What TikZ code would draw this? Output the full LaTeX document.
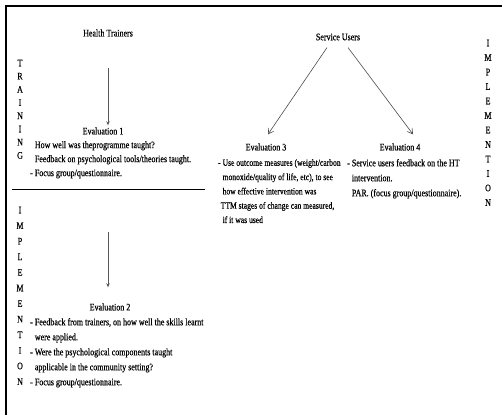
\documentclass[tikz,border=0pt]{standalone}
\usepackage{fontspec}
\setmainfont{Liberation Serif}[FakeStretch=0.8,FakeBold=0.3]
\usetikzlibrary{arrows.meta}
\newcommand\bodyfont{\fontsize{10}{15}\selectfont}
\begin{document}
\begin{tikzpicture}[x=1pt,y=-1pt,
  heading/.style={inner sep=0pt, font=\bodyfont},
  note/.style={inner sep=0pt, align=left, anchor=north west},
  letters/.style={inner sep=0pt, align=center, anchor=north},
  flow/.style={draw=black!65, line width=0.8pt, -{Stealth[length=4pt,width=3.5pt]}},
  branch/.style={draw=black!70, line width=0.6pt, -{Straight Barb[length=5pt,width=6pt]}}]
\useasboundingbox (0,0) rectangle (502,415);
\fill[white] (0,0) rectangle (502,415);

% outer frame (top and left edges)
\draw[line width=2pt] (6,415) -- (6,6) -- (502,6);

% ---- training phase ----
\node[heading] (ht) at (108,33) {Health Trainers};
\node[letters, font=\fontsize{10}{13.2}\selectfont] (training) at (20,59.5)
  {T\\R\\A\\I\\N\\I\\N\\G};
\node[heading] (ev1) at (103,131) {Evaluation 1};
\node[note, font=\fontsize{10}{14}\selectfont] (ev1txt) at (30,141)
  {\phantom{- }How well was theprogramme taught?\\
   \phantom{- }Feedback on psychological tools/theories taught.\\
   - Focus group/questionnaire.};
\coordinate (a1s) at (108,68);
\draw[flow, shorten >=2pt] (a1s) -- (a1s |- ev1.north);

% divider between the two phases
\coordinate (divl) at (12,189);
\coordinate (divr) at (205,189);
\draw[line width=1pt] (divl) -- (divr);

% ---- implementation phase (left) ----
\node[letters, font=\fontsize{10}{15.6}\selectfont] (implL) at (20,206.5)
  {I\\M\\P\\L\\E\\M\\E\\N\\T\\I\\O\\N};
\node[heading] (ev2) at (110,307) {Evaluation 2};
\node[note, font=\bodyfont] (ev2txt) at (30,318)
  {- Feedback from trainers, on how well the skills learnt\\
   \phantom{- }were applied.\\
   - Were the psychological components taught\\
   \phantom{- }applicable in the community setting?\\
   - Focus group/questionnaire.};
\coordinate (a2s) at (108,232);
\draw[flow, shorten >=16pt] (a2s) -- (a2s |- ev2.north);

% ---- service users ----
\node[heading] (su) at (338,37) {Service Users};
\node[heading] (ev3) at (266,147) {Evaluation 3};
\node[heading] (ev4) at (400,147) {Evaluation 4};
\draw[branch] ([xshift=-11pt,yshift=-7pt]su.south) -- ([xshift=2pt,yshift=9pt]ev3.north);
\draw[branch] ([xshift=10pt,yshift=-7pt]su.south) -- ([xshift=13pt,yshift=9pt]ev4.north);

\node[note, font=\fontsize{9.5}{14.3}\selectfont] (ev3txt) at (218,159)
  {- Use outcome measures (weight/carbon\\
   \phantom{- }monoxide/quality of life, etc), to see\\
   \phantom{- }how effective intervention was\\
   \phantom{-}TTM stages of change can measured,\\
   \phantom{- }if it was used};
\node[note, font=\bodyfont] (ev4txt) at (347,159)
  {- Service users feedback on the HT\\
   \phantom{- }intervention.\\
   \phantom{- }PAR. (focus group/questionnaire).};

\node[letters, font=\fontsize{10}{14.5}\selectfont] (implR) at (488,39.5)
  {I\\M\\P\\L\\E\\M\\E\\N\\T\\I\\O\\N};
\end{tikzpicture}
\end{document}
